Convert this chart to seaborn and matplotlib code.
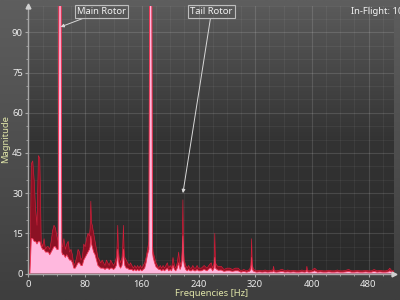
import numpy as np
import pandas as pd
import matplotlib
matplotlib.use("Agg")
import matplotlib.pyplot as plt
from matplotlib.colors import LinearSegmentedColormap
from matplotlib.ticker import MultipleLocator
import seaborn as sns

# ---------------- data ----------------
freq = [
    0, 2, 4, 6, 8, 10, 12, 14, 16, 18,
    20, 22, 24, 26, 28, 30, 32, 34, 36, 38,
    40, 42, 43.5, 44.5, 45.5, 47, 48, 50, 52, 54,
    56, 58, 60, 62, 64, 66, 68, 70, 72, 74,
    76, 78, 80, 82, 84, 86, 87, 88, 89, 90,
    92, 94, 96, 98, 100, 102, 104, 106, 108, 110,
    112, 114, 116, 118, 120, 122, 124, 125, 126, 127,
    128, 130, 132, 133, 134, 135, 136, 138, 140, 142,
    144, 146, 148, 150, 152, 154, 156, 158, 160, 162,
    164, 166, 168, 170, 171.5, 172.5, 173.5, 175, 176, 178,
    180, 182, 184, 186, 188, 190, 192, 194, 196, 198,
    200, 202, 204, 206, 208, 210, 212, 214, 216, 217,
    218, 219, 220, 222, 224, 226, 228, 230, 232, 234,
    236, 238, 240, 244, 248, 252, 256, 258, 260, 262,
    263, 264, 266, 268, 272, 276, 280, 284, 288, 292,
    296, 300, 304, 308, 312, 314, 315, 316, 318, 322,
    326, 330, 334, 338, 342, 345, 346, 347, 350, 354,
    358, 362, 366, 370, 374, 378, 382, 386, 390, 392,
    393, 394, 396, 400, 404, 408, 412, 416, 420, 424,
    428, 432, 436, 440, 444, 448, 452, 456, 460, 464,
    468, 472, 476, 480, 484, 488, 492, 496, 500, 504,
    508, 510, 513, 516,
]
# peak-hold magnitude (top of the red area)
mag_max = [
    0, 0, 41, 42, 35, 24, 18, 44, 43, 12,
    10, 13, 9, 10, 10, 9, 12, 16, 18, 17,
    14, 12, 160, 160, 160, 10, 10, 13, 9, 11,
    12, 8, 9, 7, 3, 4, 6, 9, 8, 5,
    6, 11, 10, 13, 15, 14, 17, 27, 19, 18,
    15, 12, 9, 6, 5, 4, 5, 4, 3, 5,
    4, 3, 5, 4, 3, 4, 6, 10, 18, 9,
    6, 4, 6, 10, 18, 9, 6, 5, 4, 3,
    4, 3, 2, 3, 2, 3, 2, 3, 2, 3,
    4, 6, 9, 12, 160, 160, 160, 11, 8, 6,
    4, 3, 2, 3, 2, 3, 2, 3, 4, 2,
    3, 2, 6, 3, 2, 4, 8, 3, 5, 9,
    27.5, 8, 5, 3, 2, 3, 2, 2, 3, 2,
    2, 3, 2, 2, 3, 2, 3.5, 4, 2, 4,
    15, 4, 3, 2.5, 2.7, 1.5, 2, 2, 1.5, 2,
    2, 1, 1.5, 1, 1.5, 3, 13, 3, 1.5, 1,
    1.2, 1, 1.3, 1, 1.2, 1.3, 2.7, 1.2, 1, 1.2,
    1.6, 1, 1.3, 1, 1.2, 1, 1, 1.3, 1, 1.2,
    2.7, 1.2, 1, 1.2, 2, 1, 1.2, 1, 1, 1.2,
    1, 1, 1.3, 1, 1, 1.2, 1.5, 1, 1, 1.2,
    1, 1, 1.2, 1, 1, 1.5, 1, 1.2, 1, 1,
    1.3, 2, 1, 1,
]
# steady magnitude (pink area)
mag_min = [
    0, 0, 13, 13, 12, 12, 11, 12, 12, 10,
    9, 9, 8, 8, 8, 7, 8, 9, 10, 10,
    9, 9, 160, 160, 160, 8, 7, 7, 6, 7,
    6, 5, 5, 4, 2, 2, 3, 4, 4, 3,
    3, 5, 6, 7, 8, 9, 10, 14, 11, 10,
    8, 7, 5, 3, 2.5, 2, 2, 2, 1.5, 2,
    2, 1.5, 2, 2, 1.5, 2, 3, 5, 9, 5,
    3, 2, 3, 5, 9, 5, 3, 2, 2, 1.5,
    1.5, 1.5, 1, 1.5, 1, 1.5, 1, 1.5, 1, 1.5,
    2, 4, 7, 9, 160, 160, 160, 8, 6, 4,
    2.5, 2, 1.5, 1.5, 1, 1.5, 1, 1.5, 2, 1,
    1.5, 1, 3, 1.5, 1, 2, 4, 1.5, 3, 5,
    14, 5, 3, 1.5, 1, 1.5, 1, 1, 1.5, 1,
    1, 1.5, 1, 1, 1.5, 1, 2, 2, 1, 2,
    6, 2, 1.5, 1.2, 1.3, 0.8, 1, 1, 0.8, 1,
    1, 0.5, 0.8, 0.5, 0.8, 1.5, 6, 1.5, 0.8, 0.5,
    0.6, 0.5, 0.6, 0.5, 0.6, 0.6, 1.3, 0.6, 0.5, 0.6,
    0.8, 0.5, 0.6, 0.5, 0.6, 0.5, 0.5, 0.6, 0.5, 0.6,
    1.3, 0.6, 0.5, 0.6, 1, 0.5, 0.6, 0.5, 0.5, 0.6,
    0.5, 0.5, 0.6, 0.5, 0.5, 0.6, 0.8, 0.5, 0.5, 0.6,
    0.5, 0.5, 0.6, 0.5, 0.5, 0.8, 0.5, 0.6, 0.5, 0.5,
    0.6, 1, 0.5, 0.5,
]
assert len(freq) == len(mag_max) == len(mag_min)

annotations = [("Main Rotor", 45.2, 92.0, 103.0, 97.8),
               ("Tail Rotor", 218.0, 30.0, 258.4, 97.8)]
title_text = "In-Flight: 10"
x_label = "Frequencies [Hz]"
y_label = "Magnitude"

df = pd.DataFrame({"freq": freq, "max": mag_max, "min": mag_min})

# ---------------- style ----------------
sns.set_theme(style="ticks")
plt.rcParams["font.family"] = ["Noto Sans", "DejaVu Sans"]

fig = plt.figure(figsize=(4, 3), dpi=100)

# figure background gradient
bg = fig.add_axes([0, 0, 1, 1], zorder=-1)
bg.axis("off")
fig_cmap = LinearSegmentedColormap.from_list("figbg", ["#3e3e3e", "#5e5e5e"])
bg.imshow(np.linspace(0, 1, 256).reshape(-1, 1), aspect="auto", cmap=fig_cmap,
          origin="lower", extent=[0, 1, 0, 1])

XMAX, YMAX = 516, 100
ax = fig.add_axes([28.5 / 400, 1 - 273.5 / 300, 365.5 / 400, 268 / 300])
ax.set_facecolor("none")

# plot area gradient
plot_cmap = LinearSegmentedColormap.from_list("plotbg", ["#2a2a2a", "#333333", "#5a5a5a"])
ax.imshow(np.linspace(0, 1, 256).reshape(-1, 1), aspect="auto", cmap=plot_cmap,
          origin="lower", extent=[0, XMAX, 0, YMAX], zorder=-5)

# grid
ax.set_axisbelow(True)
ax.xaxis.set_major_locator(MultipleLocator(80))
ax.xaxis.set_minor_locator(MultipleLocator(20))
ax.yaxis.set_major_locator(MultipleLocator(15))
ax.yaxis.set_minor_locator(MultipleLocator(5))
ax.grid(which="major", color="white", alpha=0.13, lw=0.8)
ax.grid(which="minor", color="white", alpha=0.05, lw=0.8)

# spectrum
ax.fill_between(df["freq"], 0, df["max"], color="#8c1124", lw=0, zorder=2)
sns.lineplot(data=df, x="freq", y="max", ax=ax, color="#d81e3a", lw=0.45, zorder=3)
ax.fill_between(df["freq"], 0, df["min"], color="#ffb8de", lw=0, zorder=4)
sns.lineplot(data=df, x="freq", y="min", ax=ax, color="#f03352", lw=0.6, zorder=5)

ax.set_xlim(0, XMAX)
ax.set_ylim(0, YMAX)

# axes styling
for s in ("top", "right"):
    ax.spines[s].set_visible(False)
for s in ("left", "bottom"):
    ax.spines[s].set_color("#a8a8a8")
    ax.spines[s].set_linewidth(1.0)
    ax.spines[s].set_zorder(6)
ax.plot(0, 1.0, marker="^", ms=3.5, color="#d0d0d0", transform=ax.transAxes,
        clip_on=False, zorder=7)
ax.plot(1.0, 0, marker=">", ms=3.5, color="#d0d0d0", transform=ax.transAxes,
        clip_on=False, zorder=7)

ax.tick_params(which="major", length=2.5, width=0.8, color="#a8a8a8",
               labelcolor="#ececec", labelsize=6.8, pad=1.5)
ax.tick_params(which="minor", length=1.5, width=0.6, color="#a8a8a8")
ax.tick_params(axis="x", which="major", pad=2)

ax.set_xlabel(x_label, color="#dfe4a8", fontsize=6.8, labelpad=0.5)
ax.set_ylabel(y_label, color="#dfe4a8", fontsize=6.8, labelpad=1.5)

for text, px, py, tx, ty in annotations:
    ax.annotate(text, xy=(px, py), xytext=(tx, ty), textcoords="data",
                ha="center", va="center", fontsize=6.8, color="#f2f2f2",
                bbox=dict(boxstyle="square,pad=0.25", fc="none", ec="#bdbdbd", lw=0.8),
                arrowprops=dict(arrowstyle="-|>", color="#d8d8d8", lw=0.7,
                                mutation_scale=5, shrinkA=0, shrinkB=0),
                annotation_clip=False, zorder=8)

fig.text(351 / 400, 1 - 11 / 300, title_text, color="#f2f2f2", fontsize=6.8,
         ha="left", va="center")

fig.savefig("out.png", dpi=100)
